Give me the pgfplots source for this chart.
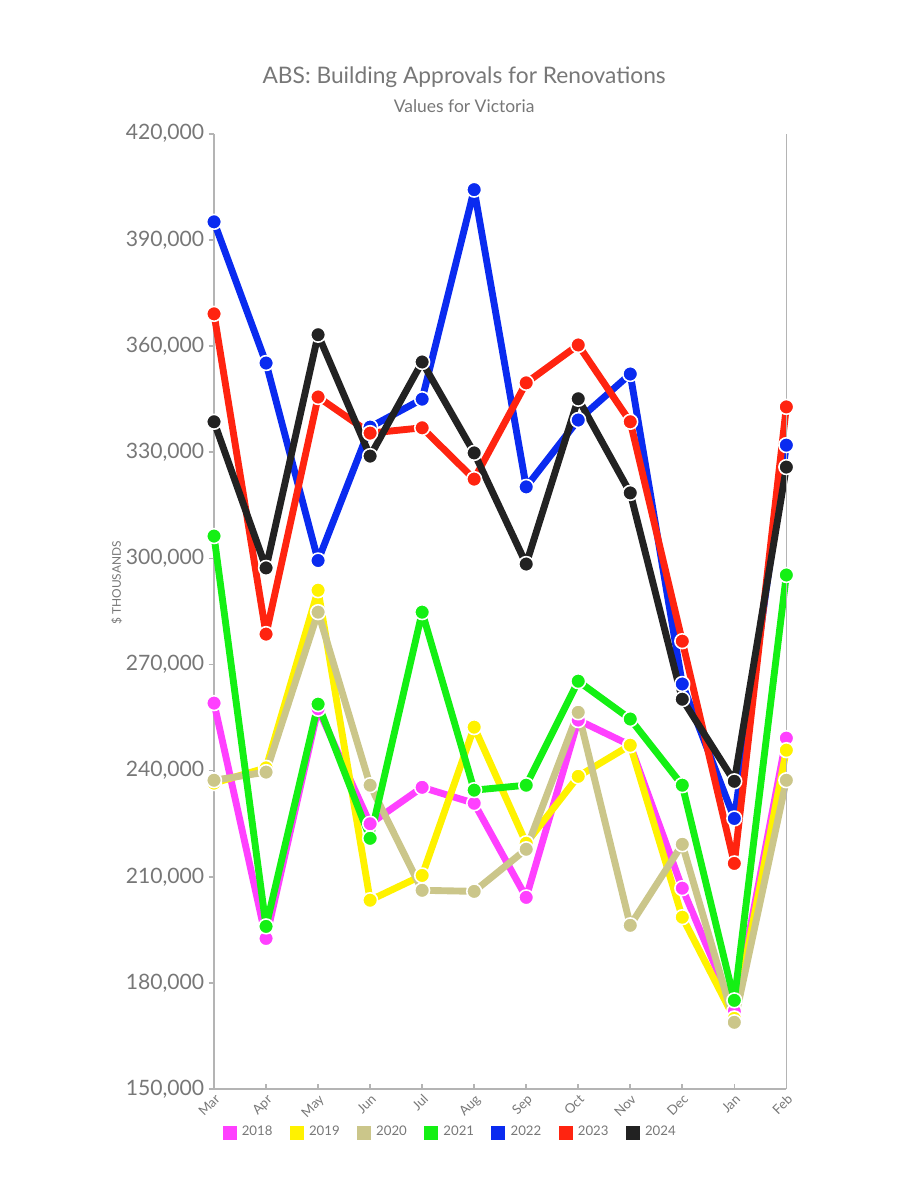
\documentclass[border=0pt]{standalone}
\usepackage{pgfplots}
\pgfplotsset{compat=1.18}
\usepackage{fontspec}
\setmainfont{Lato}
\definecolor{c2018}{HTML}{FF40FF}
\definecolor{c2019}{HTML}{FFF200}
\definecolor{c2020}{HTML}{CBC68A}
\definecolor{c2021}{HTML}{14F014}
\definecolor{c2022}{HTML}{0A2BF0}
\definecolor{c2023}{HTML}{FF2410}
\definecolor{c2024}{HTML}{222222}
\definecolor{txtgray}{HTML}{777777}
\definecolor{axgray}{HTML}{B4B4B4}

% month index 0 = Mar ... 11 = Feb
\pgfplotstableread{
m v
0 259100
1 192600
2 257500
3 225000
4 235300
5 230800
6 204200
7 254300
8 247200
9 206800
10 172000
11 249200
}\dataA
\pgfplotstableread{
m v
0 236500
1 240800
2 291000
3 203400
4 210400
5 252300
6 219500
7 238400
8 247200
9 198600
10 170000
11 245800
}\dataB
\pgfplotstableread{
m v
0 237300
1 239600
2 284800
3 235900
4 206200
5 205900
6 217800
7 256500
8 196300
9 219200
10 168900
11 237300
}\dataC
\pgfplotstableread{
m v
0 306300
1 196000
2 258800
3 220900
4 284800
5 234500
6 235900
7 265300
8 254600
9 235900
10 175100
11 295300
}\dataD
\pgfplotstableread{
m v
0 395100
1 355200
2 299400
3 337100
4 345000
5 404200
6 320200
7 339100
8 352100
9 264500
10 226500
11 332000
}\dataE
\pgfplotstableread{
m v
0 369100
1 278600
2 345600
3 335400
4 336900
5 322400
6 349600
7 360300
8 338600
9 276600
10 213800
11 342800
}\dataF
\pgfplotstableread{
m v
0 338600
1 297300
2 363200
3 328900
4 355500
5 329800
6 298400
7 345100
8 318500
9 260200
10 237000
11 325800
}\dataG

\begin{document}
\begin{tikzpicture}
\begin{axis}[
  scale only axis,
  width=216.3pt, height=361.1pt,
  xmin=0, xmax=11, ymin=150000, ymax=420000,
  clip=false,
  axis x line*=bottom, axis y line*=left,
  axis line style={axgray, line width=0.6pt, -},
  xtick={0,...,11},
  xticklabels={Mar,Apr,May,Jun,Jul,Aug,Sep,Oct,Nov,Dec,Jan,Feb},
  x tick label style={font=\fontsize{5}{6}\selectfont, text=txtgray, rotate=45, anchor=north east, inner sep=1pt},
  ytick={150000,180000,210000,240000,270000,300000,330000,360000,390000,420000},
  yticklabels={{150,000},{180,000},{210,000},{240,000},{270,000},{300,000},{330,000},{360,000},{390,000},{420,000}},
  scaled y ticks=false,
  y tick label style={font=\fontsize{8}{9}\selectfont, text=txtgray, inner sep=1.5pt},
  tick style={axgray, line width=0.6pt},
  xtick align=inside, ytick align=outside,
  major tick length=2pt,
  legend columns=-1,
  legend style={draw=none, fill=none, font=\fontsize{5}{6}\selectfont, text=txtgray,
    at={(rel axis cs:0.0,-0.046)}, anchor=west,
    /tikz/every even column/.append style={column sep=4.5pt}},
  legend image code/.code={\fill[#1, draw=none] (0pt,-2.6pt) rectangle (5.3pt,2.6pt);},
  every axis plot/.append style={line width=2.6pt, line join=round, mark=*, mark size=2.8pt,
    mark options={draw=white, line width=0.6pt}},
]
\addplot[color=c2018] table[x=m,y=v] {\dataA}; \addlegendentry{2018}
\addplot[color=c2019] table[x=m,y=v] {\dataB}; \addlegendentry{2019}
\addplot[color=c2020] table[x=m,y=v] {\dataC}; \addlegendentry{2020}
\addplot[color=c2021] table[x=m,y=v] {\dataD}; \addlegendentry{2021}
\addplot[color=c2022] table[x=m,y=v] {\dataE}; \addlegendentry{2022}
\addplot[color=c2023] table[x=m,y=v] {\dataF}; \addlegendentry{2023}
\addplot[color=c2024] table[x=m,y=v] {\dataG}; \addlegendentry{2024}
\draw[axgray, line width=0.6pt] (rel axis cs:1,0) -- (rel axis cs:1,1);
\node[text=txtgray, font=\fontsize{8.6}{10}\selectfont] at (rel axis cs:0.437,1.0597) {ABS: Building Approvals for Renovations};
\node[text=txtgray, font=\fontsize{6.6}{8}\selectfont] at (rel axis cs:0.437,1.029) {Values for Victoria};
\node[text=txtgray, font=\fontsize{4.5}{5}\selectfont, rotate=90] at (rel axis cs:-0.170,0.530) {\$ THOUSANDS};
\path (rel axis cs:-0.374,1.140) rectangle (rel axis cs:1.199,-0.116);
\end{axis}
\end{tikzpicture}
\end{document}
